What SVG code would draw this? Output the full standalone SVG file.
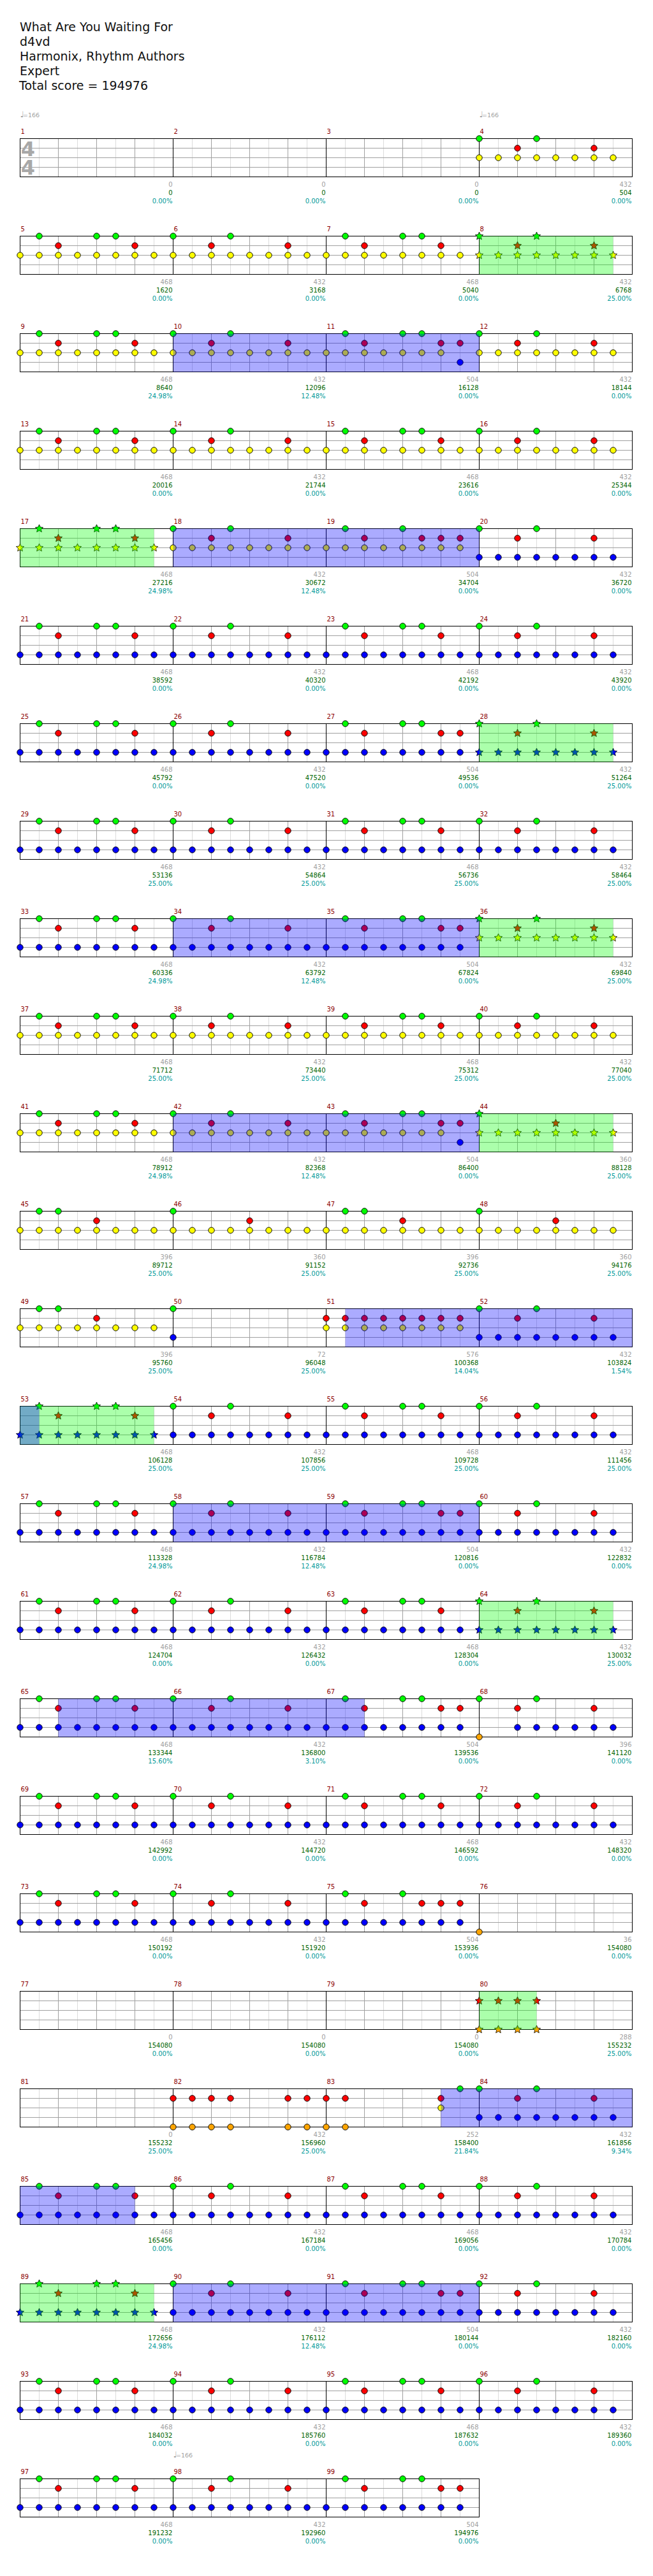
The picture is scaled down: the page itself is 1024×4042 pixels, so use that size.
<svg xmlns="http://www.w3.org/2000/svg" width="1024" height="4042" viewBox="0 0 1024 4042">
<style>
.t{font-family:"DejaVu Sans","Liberation Sans",sans-serif;font-size:10px}
.h{font-family:"DejaVu Sans","Liberation Sans",sans-serif;font-size:19px;fill:#111}
.mn{fill:#8b0000}
.s1{fill:#a0a0a0;text-anchor:end}
.s2{fill:#006400;text-anchor:end}
.s3{fill:#009999;text-anchor:end}
.tp{fill:#a0a0a0;font-size:9.5px}
.ts{font-family:"DejaVu Sans","Liberation Sans",sans-serif;font-size:32px;font-weight:bold;fill:#a8a8a8;text-anchor:middle}
.og{fill:#00ff00;fill-opacity:.33}
.ob{fill:#0000ff;fill-opacity:.33}
</style>
<defs>
<circle id="nG" r="4.7" fill="#00ff00" stroke="#000"/>
<circle id="nR" r="4.7" fill="#ff0000" stroke="#000"/>
<circle id="nY" r="4.7" fill="#ffff00" stroke="#000"/>
<circle id="nB" r="4.7" fill="#0000ff" stroke="#000"/>
<circle id="nO" r="4.7" fill="#ffa500" stroke="#000"/>
<path id="sG" d="M0,-6.5L1.76,-2.43L6.18,-2.01L2.85,.93L3.82,5.26L0,3L-3.82,5.26L-2.85,.93L-6.18,-2.01L-1.76,-2.43Z" fill="#00ff00" stroke="#000" stroke-width=".8"/>
<path id="sR" d="M0,-6.5L1.76,-2.43L6.18,-2.01L2.85,.93L3.82,5.26L0,3L-3.82,5.26L-2.85,.93L-6.18,-2.01L-1.76,-2.43Z" fill="#ff0000" stroke="#000" stroke-width=".8"/>
<path id="sY" d="M0,-6.5L1.76,-2.43L6.18,-2.01L2.85,.93L3.82,5.26L0,3L-3.82,5.26L-2.85,.93L-6.18,-2.01L-1.76,-2.43Z" fill="#ffff00" stroke="#000" stroke-width=".8"/>
<path id="sB" d="M0,-6.5L1.76,-2.43L6.18,-2.01L2.85,.93L3.82,5.26L0,3L-3.82,5.26L-2.85,.93L-6.18,-2.01L-1.76,-2.43Z" fill="#0000ff" stroke="#000" stroke-width=".8"/>
<path id="sO" d="M0,-6.5L1.76,-2.43L6.18,-2.01L2.85,.93L3.82,5.26L0,3L-3.82,5.26L-2.85,.93L-6.18,-2.01L-1.76,-2.43Z" fill="#ffa500" stroke="#000" stroke-width=".8"/>
<g id="mg"><path d="M30,0V60M90,0V60M150,0V60M210,0V60" stroke="#dcdcdc"/><path d="M60,0V60M120,0V60M180,0V60" stroke="#a0a0a0"/></g>
<g id="staff4"><rect width="960" height="60" fill="#fff"/><use href="#mg"/><use href="#mg" x="240"/><use href="#mg" x="480"/><use href="#mg" x="720"/><path d="M0,15H960M0,30H960M0,45H960" stroke="#a0a0a0"/><path d="M240,0V60M480,0V60M720,0V60" stroke="#000"/><rect width="960" height="60" fill="none" stroke="#000"/></g>
<g id="staff3"><rect width="720" height="60" fill="#fff"/><use href="#mg"/><use href="#mg" x="240"/><use href="#mg" x="480"/><path d="M0,15H720M0,30H720M0,45H720" stroke="#a0a0a0"/><path d="M240,0V60M480,0V60" stroke="#000"/><rect width="720" height="60" fill="none" stroke="#000"/></g>
<g id="y8"><use href="#nY" y="30"/><use href="#nY" x="30" y="30"/><use href="#nY" x="60" y="30"/><use href="#nY" x="90" y="30"/><use href="#nY" x="120" y="30"/><use href="#nY" x="150" y="30"/><use href="#nY" x="180" y="30"/><use href="#nY" x="210" y="30"/></g>
<g id="b8"><use href="#nB" y="45"/><use href="#nB" x="30" y="45"/><use href="#nB" x="60" y="45"/><use href="#nB" x="90" y="45"/><use href="#nB" x="120" y="45"/><use href="#nB" x="150" y="45"/><use href="#nB" x="180" y="45"/><use href="#nB" x="210" y="45"/></g>
<g id="sy8"><use href="#sY" y="30"/><use href="#sY" x="30" y="30"/><use href="#sY" x="60" y="30"/><use href="#sY" x="90" y="30"/><use href="#sY" x="120" y="30"/><use href="#sY" x="150" y="30"/><use href="#sY" x="180" y="30"/><use href="#sY" x="210" y="30"/></g>
<g id="sb8"><use href="#sB" y="45"/><use href="#sB" x="30" y="45"/><use href="#sB" x="60" y="45"/><use href="#sB" x="90" y="45"/><use href="#sB" x="120" y="45"/><use href="#sB" x="150" y="45"/><use href="#sB" x="180" y="45"/><use href="#sB" x="210" y="45"/></g>
<g id="r8"><use href="#nR" y="15"/><use href="#nR" x="30" y="15"/><use href="#nR" x="60" y="15"/><use href="#nR" x="90" y="15"/><use href="#nR" x="120" y="15"/><use href="#nR" x="150" y="15"/><use href="#nR" x="180" y="15"/><use href="#nR" x="210" y="15"/></g>
<g id="gA"><use href="#nG" x="30"/><use href="#nG" x="120"/><use href="#nG" x="150"/></g>
<g id="gB"><use href="#nG"/><use href="#nG" x="90"/></g>
<g id="r26"><use href="#nR" x="60" y="15"/><use href="#nR" x="180" y="15"/></g>
<g id="sgA"><use href="#sG" x="30"/><use href="#sG" x="120"/><use href="#sG" x="150"/></g>
<g id="sgB"><use href="#sG"/><use href="#sG" x="90"/></g>
<g id="sr26"><use href="#sR" x="60" y="15"/><use href="#sR" x="180" y="15"/></g>
<g id="AY"><use href="#gA"/><use href="#r26"/><use href="#y8"/></g>
<g id="BY"><use href="#gB"/><use href="#r26"/><use href="#y8"/></g>
<g id="AB"><use href="#gA"/><use href="#r26"/><use href="#b8"/></g>
<g id="BB"><use href="#gB"/><use href="#r26"/><use href="#b8"/></g>
<g id="sAY"><use href="#sgA"/><use href="#sr26"/><use href="#sy8"/></g>
<g id="sBY"><use href="#sgB"/><use href="#sr26"/><use href="#sy8"/></g>
<g id="sAB"><use href="#sgA"/><use href="#sr26"/><use href="#sb8"/></g>
<g id="sBB"><use href="#sgB"/><use href="#sr26"/><use href="#sb8"/></g>
<g id="CB"><use href="#gA"/><use href="#r26"/><use href="#nR" x="210" y="15"/><use href="#b8"/></g>
<g id="CY"><use href="#gA"/><use href="#r26"/><use href="#nR" x="210" y="15"/><use href="#nY" y="30"/><use href="#nY" x="30" y="30"/><use href="#nY" x="60" y="30"/><use href="#nY" x="90" y="30"/><use href="#nY" x="120" y="30"/><use href="#nY" x="150" y="30"/><use href="#nY" x="180" y="30"/><use href="#nB" x="210" y="45"/></g>
<g id="D"><use href="#nG" x="30"/><use href="#nG" x="120"/><use href="#nR" x="60" y="15"/><use href="#nR" x="150" y="15"/><use href="#nR" x="180" y="15"/><use href="#nR" x="210" y="15"/></g>
<g id="EY"><use href="#nG" x="30"/><use href="#nG" x="60"/><use href="#nR" x="120" y="15"/><use href="#y8"/></g>
<g id="FY"><use href="#nG"/><use href="#nR" x="120" y="15"/><use href="#y8"/></g>
</defs>
<rect width="1024" height="4042" fill="#fff"/>
<g id="header">
<text class="h" x="31" y="49">What Are You Waiting For</text>
<text class="h" x="31" y="72">d4vd</text>
<text class="h" x="31" y="95">Harmonix, Rhythm Authors</text>
<text class="h" x="31" y="118">Expert</text>
<text class="h" x="30" y="141">Total score = 194976</text>
</g>
<g id="row-1" transform="translate(31.5,217.5)">
<use href="#staff4"/>
<text class="ts"><tspan x="12.5" y="27.5">4</tspan><tspan x="12.5" y="56.5">4</tspan></text>
<text class="t tp" x="0" y="-33.5"><tspan font-size="13">♩</tspan><tspan x="4.5">=166</tspan></text>
<text class="t tp" x="720" y="-33.5"><tspan font-size="13">♩</tspan><tspan x="724.5">=166</tspan></text>
<g id="m1"><text class="t mn" x="1" y="-8">1</text><text class="t s1" x="239" y="75.5">0</text><text class="t s2" x="239" y="88.5">0</text><text class="t s3" x="239" y="101">0.00%</text></g>
<g id="m2" transform="translate(240)"><text class="t mn" x="1" y="-8">2</text><text class="t s1" x="239" y="75.5">0</text><text class="t s2" x="239" y="88.5">0</text><text class="t s3" x="239" y="101">0.00%</text></g>
<g id="m3" transform="translate(480)"><text class="t mn" x="1" y="-8">3</text><text class="t s1" x="239" y="75.5">0</text><text class="t s2" x="239" y="88.5">0</text><text class="t s3" x="239" y="101">0.00%</text></g>
<g id="m4" transform="translate(720)"><text class="t mn" x="1" y="-8">4</text><use href="#BY"/><text class="t s1" x="239" y="75.5">432</text><text class="t s2" x="239" y="88.5">504</text><text class="t s3" x="239" y="101">0.00%</text></g>
</g>
<g id="row-2" transform="translate(31.5,370.5)">
<use href="#staff4"/>
<g id="m5"><text class="t mn" x="1" y="-8">5</text><use href="#AY"/><text class="t s1" x="239" y="75.5">468</text><text class="t s2" x="239" y="88.5">1620</text><text class="t s3" x="239" y="101">0.00%</text></g>
<g id="m6" transform="translate(240)"><text class="t mn" x="1" y="-8">6</text><use href="#BY"/><text class="t s1" x="239" y="75.5">432</text><text class="t s2" x="239" y="88.5">3168</text><text class="t s3" x="239" y="101">0.00%</text></g>
<g id="m7" transform="translate(480)"><text class="t mn" x="1" y="-8">7</text><use href="#AY"/><text class="t s1" x="239" y="75.5">468</text><text class="t s2" x="239" y="88.5">5040</text><text class="t s3" x="239" y="101">0.00%</text></g>
<g id="m8" transform="translate(720)"><text class="t mn" x="1" y="-8">8</text><use href="#sBY"/><text class="t s1" x="239" y="75.5">432</text><text class="t s2" x="239" y="88.5">6768</text><text class="t s3" x="239" y="101">25.00%</text></g>
<rect class="og" x="720" width="210" height="60"/>
</g>
<g id="row-3" transform="translate(31.5,523.5)">
<use href="#staff4"/>
<g id="m9"><text class="t mn" x="1" y="-8">9</text><use href="#AY"/><text class="t s1" x="239" y="75.5">468</text><text class="t s2" x="239" y="88.5">8640</text><text class="t s3" x="239" y="101">24.98%</text></g>
<g id="m10" transform="translate(240)"><text class="t mn" x="1" y="-8">10</text><use href="#BY"/><text class="t s1" x="239" y="75.5">432</text><text class="t s2" x="239" y="88.5">12096</text><text class="t s3" x="239" y="101">12.48%</text></g>
<g id="m11" transform="translate(480)"><text class="t mn" x="1" y="-8">11</text><use href="#CY"/><text class="t s1" x="239" y="75.5">504</text><text class="t s2" x="239" y="88.5">16128</text><text class="t s3" x="239" y="101">0.00%</text></g>
<g id="m12" transform="translate(720)"><text class="t mn" x="1" y="-8">12</text><use href="#BY"/><text class="t s1" x="239" y="75.5">432</text><text class="t s2" x="239" y="88.5">18144</text><text class="t s3" x="239" y="101">0.00%</text></g>
<rect class="ob" x="240" width="480" height="60"/>
</g>
<g id="row-4" transform="translate(31.5,676.5)">
<use href="#staff4"/>
<g id="m13"><text class="t mn" x="1" y="-8">13</text><use href="#AY"/><text class="t s1" x="239" y="75.5">468</text><text class="t s2" x="239" y="88.5">20016</text><text class="t s3" x="239" y="101">0.00%</text></g>
<g id="m14" transform="translate(240)"><text class="t mn" x="1" y="-8">14</text><use href="#BY"/><text class="t s1" x="239" y="75.5">432</text><text class="t s2" x="239" y="88.5">21744</text><text class="t s3" x="239" y="101">0.00%</text></g>
<g id="m15" transform="translate(480)"><text class="t mn" x="1" y="-8">15</text><use href="#AY"/><text class="t s1" x="239" y="75.5">468</text><text class="t s2" x="239" y="88.5">23616</text><text class="t s3" x="239" y="101">0.00%</text></g>
<g id="m16" transform="translate(720)"><text class="t mn" x="1" y="-8">16</text><use href="#BY"/><text class="t s1" x="239" y="75.5">432</text><text class="t s2" x="239" y="88.5">25344</text><text class="t s3" x="239" y="101">0.00%</text></g>
</g>
<g id="row-5" transform="translate(31.5,829.5)">
<use href="#staff4"/>
<g id="m17"><text class="t mn" x="1" y="-8">17</text><use href="#sAY"/><text class="t s1" x="239" y="75.5">468</text><text class="t s2" x="239" y="88.5">27216</text><text class="t s3" x="239" y="101">24.98%</text></g>
<g id="m18" transform="translate(240)"><text class="t mn" x="1" y="-8">18</text><use href="#BY"/><text class="t s1" x="239" y="75.5">432</text><text class="t s2" x="239" y="88.5">30672</text><text class="t s3" x="239" y="101">12.48%</text></g>
<g id="m19" transform="translate(480)"><text class="t mn" x="1" y="-8">19</text><use href="#D"/><use href="#y8"/><text class="t s1" x="239" y="75.5">504</text><text class="t s2" x="239" y="88.5">34704</text><text class="t s3" x="239" y="101">0.00%</text></g>
<g id="m20" transform="translate(720)"><text class="t mn" x="1" y="-8">20</text><use href="#BB"/><text class="t s1" x="239" y="75.5">432</text><text class="t s2" x="239" y="88.5">36720</text><text class="t s3" x="239" y="101">0.00%</text></g>
<rect class="og" x="0" width="210" height="60"/>
<rect class="ob" x="240" width="480" height="60"/>
</g>
<g id="row-6" transform="translate(31.5,982.5)">
<use href="#staff4"/>
<g id="m21"><text class="t mn" x="1" y="-8">21</text><use href="#AB"/><text class="t s1" x="239" y="75.5">468</text><text class="t s2" x="239" y="88.5">38592</text><text class="t s3" x="239" y="101">0.00%</text></g>
<g id="m22" transform="translate(240)"><text class="t mn" x="1" y="-8">22</text><use href="#BB"/><text class="t s1" x="239" y="75.5">432</text><text class="t s2" x="239" y="88.5">40320</text><text class="t s3" x="239" y="101">0.00%</text></g>
<g id="m23" transform="translate(480)"><text class="t mn" x="1" y="-8">23</text><use href="#AB"/><text class="t s1" x="239" y="75.5">468</text><text class="t s2" x="239" y="88.5">42192</text><text class="t s3" x="239" y="101">0.00%</text></g>
<g id="m24" transform="translate(720)"><text class="t mn" x="1" y="-8">24</text><use href="#BB"/><text class="t s1" x="239" y="75.5">432</text><text class="t s2" x="239" y="88.5">43920</text><text class="t s3" x="239" y="101">0.00%</text></g>
</g>
<g id="row-7" transform="translate(31.5,1135.5)">
<use href="#staff4"/>
<g id="m25"><text class="t mn" x="1" y="-8">25</text><use href="#AB"/><text class="t s1" x="239" y="75.5">468</text><text class="t s2" x="239" y="88.5">45792</text><text class="t s3" x="239" y="101">0.00%</text></g>
<g id="m26" transform="translate(240)"><text class="t mn" x="1" y="-8">26</text><use href="#BB"/><text class="t s1" x="239" y="75.5">432</text><text class="t s2" x="239" y="88.5">47520</text><text class="t s3" x="239" y="101">0.00%</text></g>
<g id="m27" transform="translate(480)"><text class="t mn" x="1" y="-8">27</text><use href="#CB"/><text class="t s1" x="239" y="75.5">504</text><text class="t s2" x="239" y="88.5">49536</text><text class="t s3" x="239" y="101">0.00%</text></g>
<g id="m28" transform="translate(720)"><text class="t mn" x="1" y="-8">28</text><use href="#sBB"/><text class="t s1" x="239" y="75.5">432</text><text class="t s2" x="239" y="88.5">51264</text><text class="t s3" x="239" y="101">25.00%</text></g>
<rect class="og" x="720" width="210" height="60"/>
</g>
<g id="row-8" transform="translate(31.5,1288.5)">
<use href="#staff4"/>
<g id="m29"><text class="t mn" x="1" y="-8">29</text><use href="#AB"/><text class="t s1" x="239" y="75.5">468</text><text class="t s2" x="239" y="88.5">53136</text><text class="t s3" x="239" y="101">25.00%</text></g>
<g id="m30" transform="translate(240)"><text class="t mn" x="1" y="-8">30</text><use href="#BB"/><text class="t s1" x="239" y="75.5">432</text><text class="t s2" x="239" y="88.5">54864</text><text class="t s3" x="239" y="101">25.00%</text></g>
<g id="m31" transform="translate(480)"><text class="t mn" x="1" y="-8">31</text><use href="#AB"/><text class="t s1" x="239" y="75.5">468</text><text class="t s2" x="239" y="88.5">56736</text><text class="t s3" x="239" y="101">25.00%</text></g>
<g id="m32" transform="translate(720)"><text class="t mn" x="1" y="-8">32</text><use href="#BB"/><text class="t s1" x="239" y="75.5">432</text><text class="t s2" x="239" y="88.5">58464</text><text class="t s3" x="239" y="101">25.00%</text></g>
</g>
<g id="row-9" transform="translate(31.5,1441.5)">
<use href="#staff4"/>
<g id="m33"><text class="t mn" x="1" y="-8">33</text><use href="#AB"/><text class="t s1" x="239" y="75.5">468</text><text class="t s2" x="239" y="88.5">60336</text><text class="t s3" x="239" y="101">24.98%</text></g>
<g id="m34" transform="translate(240)"><text class="t mn" x="1" y="-8">34</text><use href="#BB"/><text class="t s1" x="239" y="75.5">432</text><text class="t s2" x="239" y="88.5">63792</text><text class="t s3" x="239" y="101">12.48%</text></g>
<g id="m35" transform="translate(480)"><text class="t mn" x="1" y="-8">35</text><use href="#CB"/><text class="t s1" x="239" y="75.5">504</text><text class="t s2" x="239" y="88.5">67824</text><text class="t s3" x="239" y="101">0.00%</text></g>
<g id="m36" transform="translate(720)"><text class="t mn" x="1" y="-8">36</text><use href="#sBY"/><text class="t s1" x="239" y="75.5">432</text><text class="t s2" x="239" y="88.5">69840</text><text class="t s3" x="239" y="101">25.00%</text></g>
<rect class="ob" x="240" width="480" height="60"/>
<rect class="og" x="720" width="210" height="60"/>
</g>
<g id="row-10" transform="translate(31.5,1594.5)">
<use href="#staff4"/>
<g id="m37"><text class="t mn" x="1" y="-8">37</text><use href="#AY"/><text class="t s1" x="239" y="75.5">468</text><text class="t s2" x="239" y="88.5">71712</text><text class="t s3" x="239" y="101">25.00%</text></g>
<g id="m38" transform="translate(240)"><text class="t mn" x="1" y="-8">38</text><use href="#BY"/><text class="t s1" x="239" y="75.5">432</text><text class="t s2" x="239" y="88.5">73440</text><text class="t s3" x="239" y="101">25.00%</text></g>
<g id="m39" transform="translate(480)"><text class="t mn" x="1" y="-8">39</text><use href="#AY"/><text class="t s1" x="239" y="75.5">468</text><text class="t s2" x="239" y="88.5">75312</text><text class="t s3" x="239" y="101">25.00%</text></g>
<g id="m40" transform="translate(720)"><text class="t mn" x="1" y="-8">40</text><use href="#BY"/><text class="t s1" x="239" y="75.5">432</text><text class="t s2" x="239" y="88.5">77040</text><text class="t s3" x="239" y="101">25.00%</text></g>
</g>
<g id="row-11" transform="translate(31.5,1747.5)">
<use href="#staff4"/>
<g id="m41"><text class="t mn" x="1" y="-8">41</text><use href="#AY"/><text class="t s1" x="239" y="75.5">468</text><text class="t s2" x="239" y="88.5">78912</text><text class="t s3" x="239" y="101">24.98%</text></g>
<g id="m42" transform="translate(240)"><text class="t mn" x="1" y="-8">42</text><use href="#BY"/><text class="t s1" x="239" y="75.5">432</text><text class="t s2" x="239" y="88.5">82368</text><text class="t s3" x="239" y="101">12.48%</text></g>
<g id="m43" transform="translate(480)"><text class="t mn" x="1" y="-8">43</text><use href="#CY"/><text class="t s1" x="239" y="75.5">504</text><text class="t s2" x="239" y="88.5">86400</text><text class="t s3" x="239" y="101">0.00%</text></g>
<g id="m44" transform="translate(720)"><text class="t mn" x="1" y="-8">44</text><use href="#sG"/><use href="#sR" x="120" y="15"/><use href="#sy8"/><text class="t s1" x="239" y="75.5">360</text><text class="t s2" x="239" y="88.5">88128</text><text class="t s3" x="239" y="101">25.00%</text></g>
<rect class="ob" x="240" width="480" height="60"/>
<rect class="og" x="720" width="210" height="60"/>
</g>
<g id="row-12" transform="translate(31.5,1900.5)">
<use href="#staff4"/>
<g id="m45"><text class="t mn" x="1" y="-8">45</text><use href="#EY"/><text class="t s1" x="239" y="75.5">396</text><text class="t s2" x="239" y="88.5">89712</text><text class="t s3" x="239" y="101">25.00%</text></g>
<g id="m46" transform="translate(240)"><text class="t mn" x="1" y="-8">46</text><use href="#FY"/><text class="t s1" x="239" y="75.5">360</text><text class="t s2" x="239" y="88.5">91152</text><text class="t s3" x="239" y="101">25.00%</text></g>
<g id="m47" transform="translate(480)"><text class="t mn" x="1" y="-8">47</text><use href="#EY"/><text class="t s1" x="239" y="75.5">396</text><text class="t s2" x="239" y="88.5">92736</text><text class="t s3" x="239" y="101">25.00%</text></g>
<g id="m48" transform="translate(720)"><text class="t mn" x="1" y="-8">48</text><use href="#FY"/><text class="t s1" x="239" y="75.5">360</text><text class="t s2" x="239" y="88.5">94176</text><text class="t s3" x="239" y="101">25.00%</text></g>
</g>
<g id="row-13" transform="translate(31.5,2053.5)">
<use href="#staff4"/>
<g id="m49"><text class="t mn" x="1" y="-8">49</text><use href="#EY"/><text class="t s1" x="239" y="75.5">396</text><text class="t s2" x="239" y="88.5">95760</text><text class="t s3" x="239" y="101">25.00%</text></g>
<g id="m50" transform="translate(240)"><text class="t mn" x="1" y="-8">50</text><use href="#nG"/><use href="#nB" y="45"/><text class="t s1" x="239" y="75.5">72</text><text class="t s2" x="239" y="88.5">96048</text><text class="t s3" x="239" y="101">25.00%</text></g>
<g id="m51" transform="translate(480)"><text class="t mn" x="1" y="-8">51</text><use href="#r8"/><use href="#y8"/><text class="t s1" x="239" y="75.5">576</text><text class="t s2" x="239" y="88.5">100368</text><text class="t s3" x="239" y="101">14.04%</text></g>
<g id="m52" transform="translate(720)"><text class="t mn" x="1" y="-8">52</text><use href="#BB"/><text class="t s1" x="239" y="75.5">432</text><text class="t s2" x="239" y="88.5">103824</text><text class="t s3" x="239" y="101">1.54%</text></g>
<rect class="ob" x="510" width="450" height="60"/>
</g>
<g id="row-14" transform="translate(31.5,2206.5)">
<use href="#staff4"/>
<g id="m53"><text class="t mn" x="1" y="-8">53</text><use href="#sAB"/><text class="t s1" x="239" y="75.5">468</text><text class="t s2" x="239" y="88.5">106128</text><text class="t s3" x="239" y="101">25.00%</text></g>
<g id="m54" transform="translate(240)"><text class="t mn" x="1" y="-8">54</text><use href="#BB"/><text class="t s1" x="239" y="75.5">432</text><text class="t s2" x="239" y="88.5">107856</text><text class="t s3" x="239" y="101">25.00%</text></g>
<g id="m55" transform="translate(480)"><text class="t mn" x="1" y="-8">55</text><use href="#AB"/><text class="t s1" x="239" y="75.5">468</text><text class="t s2" x="239" y="88.5">109728</text><text class="t s3" x="239" y="101">25.00%</text></g>
<g id="m56" transform="translate(720)"><text class="t mn" x="1" y="-8">56</text><use href="#BB"/><text class="t s1" x="239" y="75.5">432</text><text class="t s2" x="239" y="88.5">111456</text><text class="t s3" x="239" y="101">25.00%</text></g>
<rect class="og" x="0" width="210" height="60"/>
<rect class="ob" x="0" width="30" height="60"/>
</g>
<g id="row-15" transform="translate(31.5,2359.5)">
<use href="#staff4"/>
<g id="m57"><text class="t mn" x="1" y="-8">57</text><use href="#AB"/><text class="t s1" x="239" y="75.5">468</text><text class="t s2" x="239" y="88.5">113328</text><text class="t s3" x="239" y="101">24.98%</text></g>
<g id="m58" transform="translate(240)"><text class="t mn" x="1" y="-8">58</text><use href="#BB"/><text class="t s1" x="239" y="75.5">432</text><text class="t s2" x="239" y="88.5">116784</text><text class="t s3" x="239" y="101">12.48%</text></g>
<g id="m59" transform="translate(480)"><text class="t mn" x="1" y="-8">59</text><use href="#CB"/><text class="t s1" x="239" y="75.5">504</text><text class="t s2" x="239" y="88.5">120816</text><text class="t s3" x="239" y="101">0.00%</text></g>
<g id="m60" transform="translate(720)"><text class="t mn" x="1" y="-8">60</text><use href="#BB"/><text class="t s1" x="239" y="75.5">432</text><text class="t s2" x="239" y="88.5">122832</text><text class="t s3" x="239" y="101">0.00%</text></g>
<rect class="ob" x="240" width="480" height="60"/>
</g>
<g id="row-16" transform="translate(31.5,2512.5)">
<use href="#staff4"/>
<g id="m61"><text class="t mn" x="1" y="-8">61</text><use href="#AB"/><text class="t s1" x="239" y="75.5">468</text><text class="t s2" x="239" y="88.5">124704</text><text class="t s3" x="239" y="101">0.00%</text></g>
<g id="m62" transform="translate(240)"><text class="t mn" x="1" y="-8">62</text><use href="#BB"/><text class="t s1" x="239" y="75.5">432</text><text class="t s2" x="239" y="88.5">126432</text><text class="t s3" x="239" y="101">0.00%</text></g>
<g id="m63" transform="translate(480)"><text class="t mn" x="1" y="-8">63</text><use href="#AB"/><text class="t s1" x="239" y="75.5">468</text><text class="t s2" x="239" y="88.5">128304</text><text class="t s3" x="239" y="101">0.00%</text></g>
<g id="m64" transform="translate(720)"><text class="t mn" x="1" y="-8">64</text><use href="#sBB"/><text class="t s1" x="239" y="75.5">432</text><text class="t s2" x="239" y="88.5">130032</text><text class="t s3" x="239" y="101">25.00%</text></g>
<rect class="og" x="720" width="210" height="60"/>
</g>
<g id="row-17" transform="translate(31.5,2665.5)">
<use href="#staff4"/>
<g id="m65"><text class="t mn" x="1" y="-8">65</text><use href="#AB"/><text class="t s1" x="239" y="75.5">468</text><text class="t s2" x="239" y="88.5">133344</text><text class="t s3" x="239" y="101">15.60%</text></g>
<g id="m66" transform="translate(240)"><text class="t mn" x="1" y="-8">66</text><use href="#BB"/><text class="t s1" x="239" y="75.5">432</text><text class="t s2" x="239" y="88.5">136800</text><text class="t s3" x="239" y="101">3.10%</text></g>
<g id="m67" transform="translate(480)"><text class="t mn" x="1" y="-8">67</text><use href="#CB"/><text class="t s1" x="239" y="75.5">504</text><text class="t s2" x="239" y="88.5">139536</text><text class="t s3" x="239" y="101">0.00%</text></g>
<g id="m68" transform="translate(720)"><text class="t mn" x="1" y="-8">68</text><use href="#gB"/><use href="#r26"/><use href="#nB" x="60" y="45"/><use href="#nB" x="90" y="45"/><use href="#nB" x="120" y="45"/><use href="#nB" x="150" y="45"/><use href="#nB" x="180" y="45"/><use href="#nB" x="210" y="45"/><use href="#nO" y="60"/><text class="t s1" x="239" y="75.5">396</text><text class="t s2" x="239" y="88.5">141120</text><text class="t s3" x="239" y="101">0.00%</text></g>
<rect class="ob" x="60" width="480" height="60"/>
</g>
<g id="row-18" transform="translate(31.5,2818.5)">
<use href="#staff4"/>
<g id="m69"><text class="t mn" x="1" y="-8">69</text><use href="#AB"/><text class="t s1" x="239" y="75.5">468</text><text class="t s2" x="239" y="88.5">142992</text><text class="t s3" x="239" y="101">0.00%</text></g>
<g id="m70" transform="translate(240)"><text class="t mn" x="1" y="-8">70</text><use href="#BB"/><text class="t s1" x="239" y="75.5">432</text><text class="t s2" x="239" y="88.5">144720</text><text class="t s3" x="239" y="101">0.00%</text></g>
<g id="m71" transform="translate(480)"><text class="t mn" x="1" y="-8">71</text><use href="#AB"/><text class="t s1" x="239" y="75.5">468</text><text class="t s2" x="239" y="88.5">146592</text><text class="t s3" x="239" y="101">0.00%</text></g>
<g id="m72" transform="translate(720)"><text class="t mn" x="1" y="-8">72</text><use href="#BB"/><text class="t s1" x="239" y="75.5">432</text><text class="t s2" x="239" y="88.5">148320</text><text class="t s3" x="239" y="101">0.00%</text></g>
</g>
<g id="row-19" transform="translate(31.5,2971.5)">
<use href="#staff4"/>
<g id="m73"><text class="t mn" x="1" y="-8">73</text><use href="#AB"/><text class="t s1" x="239" y="75.5">468</text><text class="t s2" x="239" y="88.5">150192</text><text class="t s3" x="239" y="101">0.00%</text></g>
<g id="m74" transform="translate(240)"><text class="t mn" x="1" y="-8">74</text><use href="#BB"/><text class="t s1" x="239" y="75.5">432</text><text class="t s2" x="239" y="88.5">151920</text><text class="t s3" x="239" y="101">0.00%</text></g>
<g id="m75" transform="translate(480)"><text class="t mn" x="1" y="-8">75</text><use href="#D"/><use href="#b8"/><text class="t s1" x="239" y="75.5">504</text><text class="t s2" x="239" y="88.5">153936</text><text class="t s3" x="239" y="101">0.00%</text></g>
<g id="m76" transform="translate(720)"><text class="t mn" x="1" y="-8">76</text><use href="#nO" y="60"/><text class="t s1" x="239" y="75.5">36</text><text class="t s2" x="239" y="88.5">154080</text><text class="t s3" x="239" y="101">0.00%</text></g>
</g>
<g id="row-20" transform="translate(31.5,3124.5)">
<use href="#staff4"/>
<g id="m77"><text class="t mn" x="1" y="-8">77</text><text class="t s1" x="239" y="75.5">0</text><text class="t s2" x="239" y="88.5">154080</text><text class="t s3" x="239" y="101">0.00%</text></g>
<g id="m78" transform="translate(240)"><text class="t mn" x="1" y="-8">78</text><text class="t s1" x="239" y="75.5">0</text><text class="t s2" x="239" y="88.5">154080</text><text class="t s3" x="239" y="101">0.00%</text></g>
<g id="m79" transform="translate(480)"><text class="t mn" x="1" y="-8">79</text><text class="t s1" x="239" y="75.5">0</text><text class="t s2" x="239" y="88.5">154080</text><text class="t s3" x="239" y="101">0.00%</text></g>
<g id="m80" transform="translate(720)"><text class="t mn" x="1" y="-8">80</text><use href="#sR" y="15"/><use href="#sR" x="30" y="15"/><use href="#sR" x="60" y="15"/><use href="#sR" x="90" y="15"/><use href="#sO" y="60"/><use href="#sO" x="30" y="60"/><use href="#sO" x="60" y="60"/><use href="#sO" x="90" y="60"/><text class="t s1" x="239" y="75.5">288</text><text class="t s2" x="239" y="88.5">155232</text><text class="t s3" x="239" y="101">25.00%</text></g>
<rect class="og" x="720" width="90" height="60"/>
</g>
<g id="row-21" transform="translate(31.5,3277.5)">
<use href="#staff4"/>
<g id="m81"><text class="t mn" x="1" y="-8">81</text><text class="t s1" x="239" y="75.5">0</text><text class="t s2" x="239" y="88.5">155232</text><text class="t s3" x="239" y="101">25.00%</text></g>
<g id="m82" transform="translate(240)"><text class="t mn" x="1" y="-8">82</text><use href="#nR" y="15"/><use href="#nR" x="30" y="15"/><use href="#nR" x="60" y="15"/><use href="#nR" x="90" y="15"/><use href="#nR" x="180" y="15"/><use href="#nR" x="210" y="15"/><use href="#nO" y="60"/><use href="#nO" x="30" y="60"/><use href="#nO" x="60" y="60"/><use href="#nO" x="90" y="60"/><use href="#nO" x="180" y="60"/><use href="#nO" x="210" y="60"/><text class="t s1" x="239" y="75.5">432</text><text class="t s2" x="239" y="88.5">156960</text><text class="t s3" x="239" y="101">25.00%</text></g>
<g id="m83" transform="translate(480)"><text class="t mn" x="1" y="-8">83</text><use href="#nR" y="15"/><use href="#nR" x="30" y="15"/><use href="#nO" y="60"/><use href="#nO" x="30" y="60"/><use href="#nR" x="180" y="15"/><use href="#nY" x="180" y="30"/><use href="#nG" x="210"/><text class="t s1" x="239" y="75.5">252</text><text class="t s2" x="239" y="88.5">158400</text><text class="t s3" x="239" y="101">21.84%</text></g>
<g id="m84" transform="translate(720)"><text class="t mn" x="1" y="-8">84</text><use href="#BB"/><text class="t s1" x="239" y="75.5">432</text><text class="t s2" x="239" y="88.5">161856</text><text class="t s3" x="239" y="101">9.34%</text></g>
<rect class="ob" x="660" width="300" height="60"/>
</g>
<g id="row-22" transform="translate(31.5,3430.5)">
<use href="#staff4"/>
<g id="m85"><text class="t mn" x="1" y="-8">85</text><use href="#AB"/><text class="t s1" x="239" y="75.5">468</text><text class="t s2" x="239" y="88.5">165456</text><text class="t s3" x="239" y="101">0.00%</text></g>
<g id="m86" transform="translate(240)"><text class="t mn" x="1" y="-8">86</text><use href="#BB"/><text class="t s1" x="239" y="75.5">432</text><text class="t s2" x="239" y="88.5">167184</text><text class="t s3" x="239" y="101">0.00%</text></g>
<g id="m87" transform="translate(480)"><text class="t mn" x="1" y="-8">87</text><use href="#AB"/><text class="t s1" x="239" y="75.5">468</text><text class="t s2" x="239" y="88.5">169056</text><text class="t s3" x="239" y="101">0.00%</text></g>
<g id="m88" transform="translate(720)"><text class="t mn" x="1" y="-8">88</text><use href="#BB"/><text class="t s1" x="239" y="75.5">432</text><text class="t s2" x="239" y="88.5">170784</text><text class="t s3" x="239" y="101">0.00%</text></g>
<rect class="ob" x="0" width="180" height="60"/>
</g>
<g id="row-23" transform="translate(31.5,3583.5)">
<use href="#staff4"/>
<g id="m89"><text class="t mn" x="1" y="-8">89</text><use href="#sAB"/><text class="t s1" x="239" y="75.5">468</text><text class="t s2" x="239" y="88.5">172656</text><text class="t s3" x="239" y="101">24.98%</text></g>
<g id="m90" transform="translate(240)"><text class="t mn" x="1" y="-8">90</text><use href="#BB"/><text class="t s1" x="239" y="75.5">432</text><text class="t s2" x="239" y="88.5">176112</text><text class="t s3" x="239" y="101">12.48%</text></g>
<g id="m91" transform="translate(480)"><text class="t mn" x="1" y="-8">91</text><use href="#CB"/><text class="t s1" x="239" y="75.5">504</text><text class="t s2" x="239" y="88.5">180144</text><text class="t s3" x="239" y="101">0.00%</text></g>
<g id="m92" transform="translate(720)"><text class="t mn" x="1" y="-8">92</text><use href="#BB"/><text class="t s1" x="239" y="75.5">432</text><text class="t s2" x="239" y="88.5">182160</text><text class="t s3" x="239" y="101">0.00%</text></g>
<rect class="og" x="0" width="210" height="60"/>
<rect class="ob" x="240" width="480" height="60"/>
</g>
<g id="row-24" transform="translate(31.5,3736.5)">
<use href="#staff4"/>
<g id="m93"><text class="t mn" x="1" y="-8">93</text><use href="#AB"/><text class="t s1" x="239" y="75.5">468</text><text class="t s2" x="239" y="88.5">184032</text><text class="t s3" x="239" y="101">0.00%</text></g>
<g id="m94" transform="translate(240)"><text class="t mn" x="1" y="-8">94</text><use href="#BB"/><text class="t s1" x="239" y="75.5">432</text><text class="t s2" x="239" y="88.5">185760</text><text class="t s3" x="239" y="101">0.00%</text></g>
<g id="m95" transform="translate(480)"><text class="t mn" x="1" y="-8">95</text><use href="#AB"/><text class="t s1" x="239" y="75.5">468</text><text class="t s2" x="239" y="88.5">187632</text><text class="t s3" x="239" y="101">0.00%</text></g>
<g id="m96" transform="translate(720)"><text class="t mn" x="1" y="-8">96</text><use href="#BB"/><text class="t s1" x="239" y="75.5">432</text><text class="t s2" x="239" y="88.5">189360</text><text class="t s3" x="239" y="101">0.00%</text></g>
</g>
<g id="row-25" transform="translate(31.5,3889.5)">
<use href="#staff3"/>
<text class="t tp" x="240" y="-33.5"><tspan font-size="13">♩</tspan><tspan x="244.5">=166</tspan></text>
<g id="m97"><text class="t mn" x="1" y="-8">97</text><use href="#AB"/><text class="t s1" x="239" y="75.5">468</text><text class="t s2" x="239" y="88.5">191232</text><text class="t s3" x="239" y="101">0.00%</text></g>
<g id="m98" transform="translate(240)"><text class="t mn" x="1" y="-8">98</text><use href="#BB"/><text class="t s1" x="239" y="75.5">432</text><text class="t s2" x="239" y="88.5">192960</text><text class="t s3" x="239" y="101">0.00%</text></g>
<g id="m99" transform="translate(480)"><text class="t mn" x="1" y="-8">99</text><use href="#CB"/><text class="t s1" x="239" y="75.5">504</text><text class="t s2" x="239" y="88.5">194976</text><text class="t s3" x="239" y="101">0.00%</text></g>
</g>
</svg>
